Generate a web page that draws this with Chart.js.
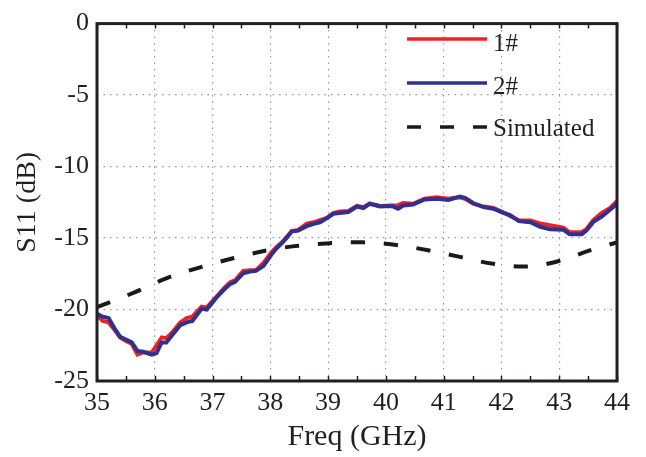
<!DOCTYPE html>
<html>
<head>
<meta charset="utf-8">
<script src="https://cdn.jsdelivr.net/npm/chart.js@4/dist/chart.umd.min.js"></script>
<style>
html,body{margin:0;padding:0;background:#fff;}
#wrap{width:646px;height:457px;}
</style>
</head>
<body>
<div id="wrap"><canvas id="c" width="646" height="457"></canvas></div>
<script>
// ---- data ----
const freqMeas = [35.00,35.10,35.20,35.30,35.40,35.50,35.60,35.70,35.80,35.90,35.95,36.03,36.12,36.20,36.30,36.44,36.55,36.65,36.81,36.90,37.07,37.20,37.30,37.39,37.53,37.65,37.75,37.88,38.02,38.10,38.20,38.30,38.37,38.48,38.63,38.75,38.86,38.98,39.09,39.20,39.35,39.50,39.61,39.72,39.90,40.10,40.21,40.30,40.47,40.67,40.88,41.08,41.28,41.37,41.51,41.69,41.86,42.03,42.15,42.30,42.50,42.67,42.84,43.07,43.18,43.39,43.47,43.59,43.73,43.88,44.00];
const s11Sample2 = [-20.3,-20.5,-20.6,-21.3,-21.9,-22.1,-22.3,-22.9,-22.95,-23.1,-23.15,-23.05,-22.3,-22.3,-21.8,-21.1,-20.9,-20.8,-19.95,-20.0,-19.15,-18.6,-18.23,-18.07,-17.47,-17.35,-17.3,-16.96,-16.16,-15.75,-15.36,-14.9,-14.55,-14.48,-14.17,-14.0,-13.9,-13.6,-13.3,-13.25,-13.18,-12.79,-12.9,-12.6,-12.79,-12.76,-12.95,-12.72,-12.65,-12.3,-12.26,-12.33,-12.1,-12.19,-12.55,-12.83,-12.95,-13.24,-13.4,-13.82,-13.89,-14.21,-14.39,-14.42,-14.74,-14.74,-14.48,-13.87,-13.52,-13.02,-12.6];
const s11Sample1 = [-20.4,-20.8,-20.9,-21.4,-21.95,-22.2,-22.4,-23.15,-23.0,-23.0,-23.0,-22.5,-21.95,-22.0,-21.6,-20.9,-20.6,-20.5,-19.8,-19.85,-19.1,-18.5,-18.1,-17.95,-17.3,-17.25,-17.25,-16.75,-16.0,-15.65,-15.3,-14.85,-14.5,-14.45,-14.0,-13.9,-13.75,-13.6,-13.25,-13.15,-13.1,-12.75,-12.85,-12.6,-12.75,-12.72,-12.7,-12.55,-12.6,-12.25,-12.15,-12.25,-12.15,-12.25,-12.6,-12.8,-12.9,-13.2,-13.45,-13.75,-13.78,-13.98,-14.1,-14.28,-14.6,-14.58,-14.39,-13.75,-13.25,-12.9,-12.42];
const freqSim = [35.0,35.65,36.23,36.8,37.37,37.95,38.48,39.03,39.6,40.15,40.73,41.28,41.86,42.43,42.98,43.56,44.0];
const s11Sim = [-19.83,-18.8,-17.77,-17.03,-16.4,-15.86,-15.54,-15.36,-15.3,-15.47,-15.86,-16.32,-16.8,-16.99,-16.62,-15.82,-15.3];
const seriesLabels = ['1#','2#','Simulated'];
const xTicksRange = [35, 44];
const yTicksRange = [-25, 0];
const xTitle = 'Freq (GHz)';
const yTitle = 'S11 (dB)';

const toXY = (xs, ys) => xs.map((x, i) => ({x: x, y: ys[i]}));
const INK = '#231f20';
const SERIF = '"Liberation Serif", "Times New Roman", serif';

const bgPlugin = {
  id: 'bg',
  beforeDraw(chart) {
    const ctx = chart.ctx;
    ctx.save();
    ctx.fillStyle = '#fff';
    ctx.fillRect(0, 0, chart.width, chart.height);
    ctx.restore();
  }
};

const framePlugin = {
  id: 'frame',
  afterDraw(chart) {
    const {ctx, chartArea: a, scales} = chart;
    ctx.save();
    ctx.strokeStyle = INK;
    ctx.lineWidth = 1.5;
    const xs = scales.x;
    for (let v = xTicksRange[0]; v <= xTicksRange[1] + 1e-9; v += 0.5) {
      const px = Math.round(xs.getPixelForValue(v)) + 0.5;
      ctx.beginPath();
      ctx.moveTo(px, a.bottom); ctx.lineTo(px, a.bottom - 5);
      ctx.moveTo(px, a.top); ctx.lineTo(px, a.top + 5);
      ctx.stroke();
    }
    ctx.lineWidth = 3;
    ctx.strokeRect(a.left, a.top, a.right - a.left, a.bottom - a.top);
    const items = [
      {ds: chart.data.datasets[0], ly: 39, ty: 44},
      {ds: chart.data.datasets[1], ly: 83, ty: 87},
      {ds: chart.data.datasets[2], ly: 127, ty: 129}
    ];
    ctx.font = '25px ' + SERIF;
    ctx.textBaseline = 'middle';
    ctx.textAlign = 'left';
    items.forEach(it => {
      ctx.beginPath();
      ctx.strokeStyle = it.ds.borderColor;
      ctx.lineWidth = 3.4;
      ctx.setLineDash(it.ds.borderDash || []);
      ctx.moveTo(407, it.ly); ctx.lineTo(487, it.ly);
      ctx.stroke();
      ctx.setLineDash([]);
      ctx.fillStyle = INK;
      ctx.fillText(it.ds.label, 493, it.ty);
    });
    ctx.restore();
  }
};

new Chart(document.getElementById('c'), {
  type: 'line',
  data: {
    datasets: [
      {label: seriesLabels[0], data: toXY(freqMeas, s11Sample1), borderColor: '#ec2227', borderWidth: 4, pointRadius: 0, tension: 0, order: 3},
      {label: seriesLabels[1], data: toXY(freqMeas, s11Sample2), borderColor: '#2e3192', borderWidth: 4, pointRadius: 0, tension: 0, order: 2},
      {label: seriesLabels[2], data: toXY(freqSim, s11Sim), borderColor: '#1a1a1a', borderWidth: 4, borderDash: [14, 19], pointRadius: 0, tension: 0.4, order: 1}
    ]
  },
  options: {
    responsive: false,
    devicePixelRatio: 1,
    animation: false,
    layout: {padding: {top: 17, right: 29, left: 0, bottom: 0}},
    plugins: {legend: {display: false}, tooltip: {enabled: false}},
    scales: {
      x: {
        type: 'linear', min: xTicksRange[0], max: xTicksRange[1],
        afterFit(s) { s.height = 76; },
        ticks: {stepSize: 1, padding: 7, color: INK, font: {family: SERIF, size: 26}, maxRotation: 0, autoSkip: false},
        grid: {drawTicks: false, color: '#9a9a9a', lineWidth: 1.2},
        border: {display: false, dash: [1.5, 5]},
        title: {display: true, text: xTitle, color: INK, font: {family: SERIF, size: 30}, padding: {top: 0, bottom: 2}}
      },
      y: {
        type: 'linear', min: yTicksRange[0], max: yTicksRange[1],
        afterFit(s) { s.width = 97; },
        ticks: {stepSize: 5, padding: 8, color: INK, font: {family: SERIF, size: 26}},
        grid: {drawTicks: false, color: '#9a9a9a', lineWidth: 1.2},
        border: {display: false, dash: [1.5, 5]},
        title: {display: true, text: yTitle, color: INK, font: {family: SERIF, size: 28}, padding: {top: 11, bottom: 0}}
      }
    }
  },
  plugins: [bgPlugin, framePlugin]
});
</script>
</body>
</html>
